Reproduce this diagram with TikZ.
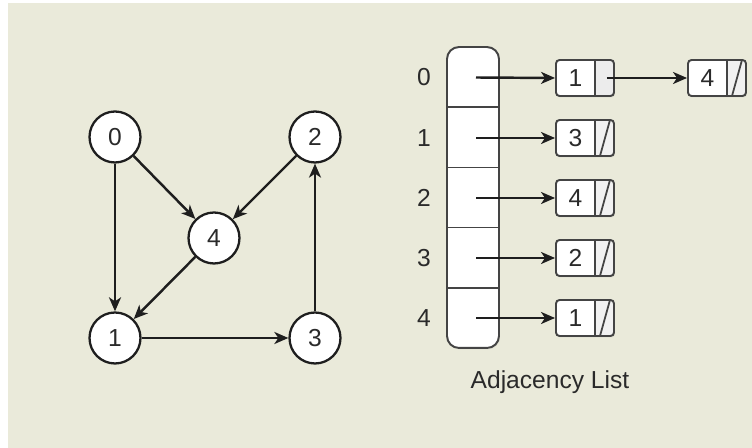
\documentclass[tikz,border=0pt]{standalone}
\usepackage{fontspec}
\setmainfont{Liberation Sans}
\usetikzlibrary{arrows.meta,positioning,shadows}
\definecolor{ALBack}{HTML}{EAEADA}
\definecolor{ALLine}{HTML}{1E1E1E}
\definecolor{ALEdge}{HTML}{444444}
\definecolor{ALPtr}{HTML}{ECECEC}
\definecolor{ALNull}{HTML}{F1F1F1}
\definecolor{ALText}{HTML}{2A2A2A}

\tikzset{
  lbl/.style={font=\fontsize{14}{16}\selectfont,text=ALText,inner sep=0pt},
  vertex/.style={circle,draw=ALLine,line width=1.3pt,fill=white,minimum size=1.02cm,inner sep=0pt,lbl},
  edge/.style={ALLine,line width=1.4pt,-{Stealth[length=2.8mm,width=2.4mm,inset=.8mm]}},
  cellline/.style={ALEdge,line width=1pt,sharp corners},
  cellbox/.style={draw=ALEdge,line width=1.1pt,fill=white,rounded corners=.07cm,
    minimum width=1.16cm,minimum height=.72cm,inner sep=0pt,
    drop shadow={opacity=.15,shadow xshift=.02cm,shadow yshift=-.03cm}},
  ptrcell/.style={cellbox,path picture={
    \fill[ALPtr,sharp corners] ([xshift=-.38cm]path picture bounding box.north east) rectangle (path picture bounding box.south east);
    \draw[cellline] ([xshift=-.38cm]path picture bounding box.north east) -- ([xshift=-.38cm]path picture bounding box.south east);}},
  nullcell/.style={cellbox,path picture={
    \fill[ALNull,sharp corners] ([xshift=-.38cm]path picture bounding box.north east) rectangle (path picture bounding box.south east);
    \draw[cellline] ([xshift=-.38cm]path picture bounding box.north east) -- ([xshift=-.38cm]path picture bounding box.south east);
    \draw[cellline] ([xshift=-.28cm]path picture bounding box.south east) -- ([xshift=-.08cm]path picture bounding box.north east);}},
  arraybox/.style={draw=ALEdge,line width=1.1pt,fill=white,rounded corners=.24cm,
    minimum width=1.04cm,minimum height=6.02cm,inner sep=0pt,
    drop shadow={opacity=.12,shadow xshift=.02cm,shadow yshift=-.03cm},
    path picture={
    \foreach \k in {1,...,4}
      \draw[cellline] ([yshift=-\k*1.204cm]path picture bounding box.north west) -- ([yshift=-\k*1.204cm]path picture bounding box.north east);}}
}

\begin{document}
\begin{tikzpicture}[x=0.02cm,y=-0.02cm]
\path[use as bounding box] (0,0) rectangle (752,448);
\fill[white] (0,0) rectangle (752,448);
\fill[ALBack] (8,3) rectangle (752,448);

% graph
\node[vertex] (g0) at (115,137) {0};
\node[vertex] (g2) at (315,137) {2};
\node[vertex] (g4) at (214,238) {4};
\node[vertex] (g1) at (115,338) {1};
\node[vertex] (g3) at (315,338) {3};
\draw[edge] (g0) -- (g1);
\draw[edge] (g0) -- (g4);
\draw[edge] (g2) -- (g4);
\draw[edge] (g4) -- (g1);
\draw[edge] (g1) -- (g3);
\draw[edge] (g3) -- (g2);

% adjacency list
\node[arraybox] (arr) at (473,197.5) {};
\foreach \i/\y in {0/77.5,1/138,2/198,3/258,4/318}{
  \coordinate (s\i) at (476,\y);
  \node[lbl] (l\i) at (424,\y) {\i};
}
\node[ptrcell] (c0) at (585,78) {};
\node[nullcell] (c1) at (585,138) {};
\node[nullcell] (c2) at (585,198) {};
\node[nullcell] (c3) at (585,258) {};
\node[nullcell] (c4) at (585,318) {};
\node[nullcell] (c5) at (717,78) {};
\foreach \c/\v in {c0/1,c1/3,c2/4,c3/2,c4/1,c5/4}
  \node[lbl] (v\c) at ([xshift=-.19cm]\c.center) {\v};
\coordinate (p0) at ([xshift=-.16cm]c0.east);
\foreach \i in {0,...,4}
  \draw[edge] (s\i) -- (c\i.west);
\draw[edge] (p0) -- (c5.west);
\node[lbl] (cap) at (550,382) {Adjacency List};
\end{tikzpicture}
\end{document}
